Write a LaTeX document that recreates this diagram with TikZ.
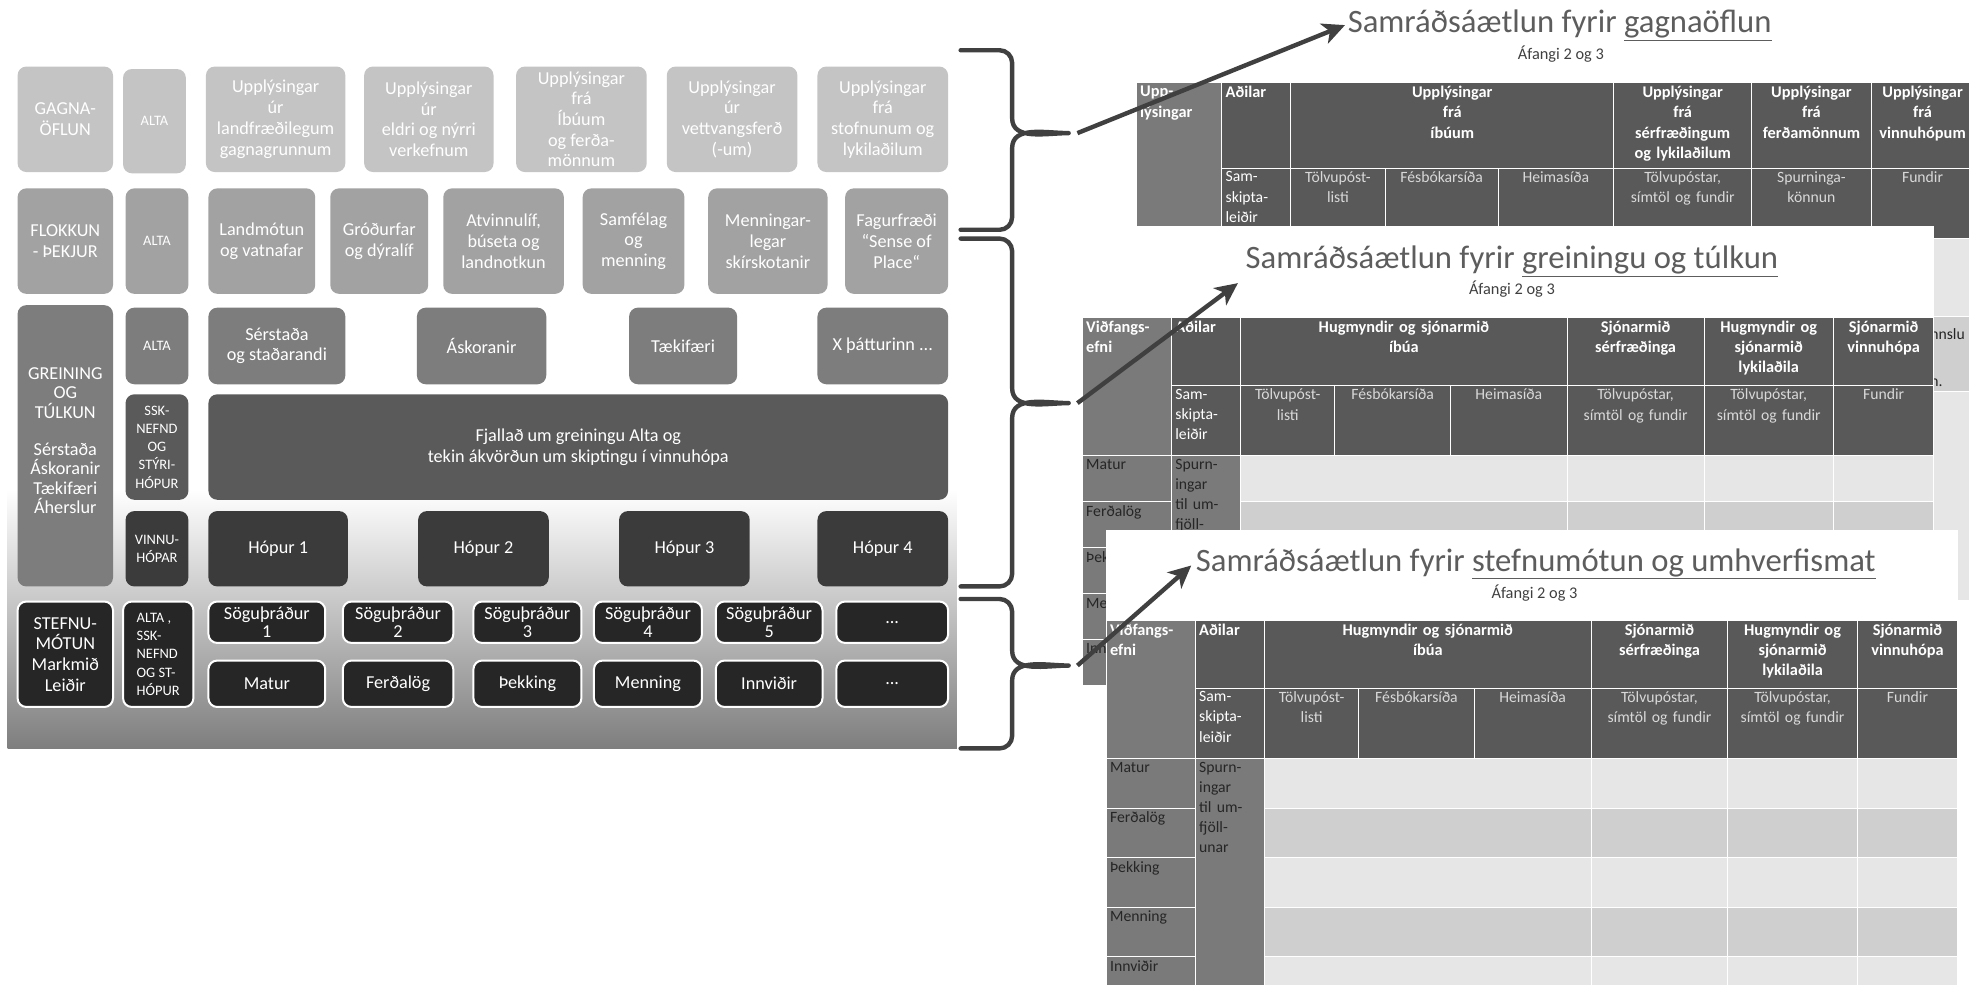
\documentclass[tikz,border=0pt]{standalone}
\usepackage{fontspec}
\setmainfont{Carlito}
\usetikzlibrary{arrows.meta}

\definecolor{rowA}{HTML}{C4C4C4}
\definecolor{rowB}{HTML}{A2A2A2}
\definecolor{rowC}{HTML}{7D7D7D}
\definecolor{rowD}{HTML}{5A5A5A}
\definecolor{rowE}{HTML}{3B3B3B}
\definecolor{rowF}{HTML}{262626}
\definecolor{panelC}{HTML}{7E7E7E}
\definecolor{ink}{HTML}{404040}
\definecolor{hdrC}{HTML}{595959}
\definecolor{colC}{HTML}{7A7A7A}
\definecolor{lightC}{HTML}{E6E6E6}
\definecolor{midC}{HTML}{CFCFCF}
\definecolor{srtxt}{HTML}{D9D9D9}

\newcommand{\pfont}{\fontsize{14.5}{16.5}\selectfont}
\newcommand{\sfont}{\fontsize{11.5}{14.5}\selectfont}
\newcommand{\hfont}{\fontsize{13}{16}\selectfont\bfseries}
\newcommand{\rfont}{\fontsize{12.5}{16}\selectfont}

% box from (x1,y1) to (x2,y2)
\newcommand{\boxat}[7][]{%
  \node[#1, minimum width={#5-#3}, minimum height={#6-#4}] (#2) at ({(#3+#5)/2},{(#4+#6)/2}) {#7};}
% table cell, text at the top
\newcommand{\cellat}[8][]{%
  \pgfmathsetmacro{\cw}{#5-#3-6}%
  \node[tcell, fill=#7, minimum width={#5-#3}, minimum height={#6-#4}] (#2) at ({(#3+#5)/2},{(#4+#6)/2}) {};
  \node[ctext, #1, text width=\cw pt] (#2t) at (#2.north) {#8};}

\tikzset{
pbox/.style={rounded corners=7pt, inner sep=1pt, align=center, text=white, font=\pfont},
sm/.style={font=\sfont},
dark/.style={pbox, fill=rowF, draw=white, line width=1.6pt},
tcell/.style={draw=white, line width=0.8pt, inner sep=0pt},
ctext/.style={anchor=north, inner sep=3pt, align=center},
hd/.style={font=\hfont, text=white},
hdl/.style={hd, align=left},
sr/.style={font=\rfont, text=srtxt},
srl/.style={font=\rfont, text=white, align=left},
rh/.style={font=\rfont, text=rowF, align=left},
ttl/.style={font=\fontsize{26}{30}\selectfont, text=ink!85, inner sep=2pt},
sub/.style={font=\fontsize{13}{15}\selectfont, text=ink},
brc/.style={draw=ink, line width=3.5pt, line join=round, line cap=round},
arr/.style={draw=ink, line width=3.5pt, -{Stealth[length=18pt, width=17pt, inset=5pt]}}
}

% plan table: prefix, x0, y0, body row height
\newcommand{\plantab}[4]{%
\begin{scope}[shift={(#2,#3)}]
  \cellat[hdl]{#1v}{0}{0}{71}{110}{colC}{Viðfangs-\\efni}
  \cellat[hdl]{#1a}{71}{0}{126}{54}{hdrC}{Aðilar}
  \cellat[hd]{#1h1}{126}{0}{386}{54}{hdrC}{Hugmyndir og sjónarmið\\íbúa}
  \cellat[hd]{#1h2}{386}{0}{495}{54}{hdrC}{Sjónarmið\\sérfræðinga}
  \cellat[hd]{#1h3}{495}{0}{598}{54}{hdrC}{Hugmyndir og\\sjónarmið\\lykilaðila}
  \cellat[hd]{#1h4}{598}{0}{678}{54}{hdrC}{Sjónarmið\\vinnuhópa}
  \cellat[srl]{#1s0}{71}{54}{126}{110}{hdrC}{Sam-\\skipta-\\leiðir}
  \cellat[sr]{#1s1}{126}{54}{201}{110}{hdrC}{Tölvupóst-\\listi}
  \cellat[sr]{#1s2}{201}{54}{293}{110}{hdrC}{Fésbókarsíða}
  \cellat[sr]{#1s3}{293}{54}{386}{110}{hdrC}{Heimasíða}
  \cellat[sr]{#1s4}{386}{54}{495}{110}{hdrC}{Tölvupóstar,\\símtöl og fundir}
  \cellat[sr]{#1s5}{495}{54}{598}{110}{hdrC}{Tölvupóstar,\\símtöl og fundir}
  \cellat[sr]{#1s6}{598}{54}{678}{110}{hdrC}{Fundir}
  \foreach \nm [count=\k] in {Matur,Ferðalög,Þekking,Menning,Innviðir} {
    \pgfmathsetmacro{\ya}{110+(\k-1)*#4}
    \pgfmathsetmacro{\yb}{110+\k*#4}
    \ifodd\k\relax \def\bg{lightC}\else \def\bg{midC}\fi
    \cellat[rh]{#1r\k}{0}{\ya}{71}{\yb}{colC}{\nm}
    \boxat[tcell, fill=\bg]{#1p\k}{126}{\ya}{386}{\yb}{}
    \boxat[tcell, fill=\bg]{#1q\k}{386}{\ya}{495}{\yb}{}
    \boxat[tcell, fill=\bg]{#1u\k}{495}{\ya}{598}{\yb}{}
    \boxat[tcell, fill=\bg]{#1w\k}{598}{\ya}{678}{\yb}{}
  }
  \pgfmathsetmacro{\yend}{110+5*#4}
  \cellat[rh]{#1sp}{71}{110}{126}{\yend}{colC}{Spurn-\\ingar\\til um-\\fjöll-\\unar}
\end{scope}}

\begin{document}
\begin{tikzpicture}[x=1pt, y=-1pt]
\useasboundingbox (0,0) rectangle (1568,784);
\clip (0,0) rectangle (1568,784);
\fill[white] (0,0) rectangle (1568,784);
\shade[top color=white, bottom color=panelC] (6,390) rectangle (762,596);

% gagnaoflun
\boxat[pbox, fill=rowA]{gagn}{14}{53}{90}{137}{GAGNA-\\ÖFLUN}
\boxat[pbox, sm, fill=rowA]{alta1}{98}{55}{148}{138}{ALTA}
\boxat[pbox, fill=rowA]{upp1}{164}{53}{275}{137}{Upplýsingar\\úr\\landfræðilegum\\gagnagrunnum}
\boxat[pbox, fill=rowA]{upp2}{290}{53}{393}{137}{Upplýsingar\\úr\\eldri og nýrri\\verkefnum}
\boxat[pbox, fill=rowA]{upp3}{411}{53}{515}{137}{Upplýsingar\\frá\\Íbúum\\og ferða-\\mönnum}
\boxat[pbox, fill=rowA]{upp4}{531}{53}{635}{137}{Upplýsingar\\úr\\vettvangsferð\\(-um)}
\boxat[pbox, fill=rowA]{upp5}{651}{53}{755}{137}{Upplýsingar\\frá\\stofnunum og\\lykilaðilum}

% flokkun
\boxat[pbox, fill=rowB]{flok}{14}{150}{90}{234}{FLOKKUN\\- ÞEKJUR}
\boxat[pbox, sm, fill=rowB]{alta2}{100}{150}{150}{234}{ALTA}
\boxat[pbox, fill=rowB]{land}{166}{150}{251}{234}{Landmótun\\og vatnafar}
\boxat[pbox, fill=rowB]{grod}{263}{150}{341}{234}{Gróðurfar\\og dýralíf}
\boxat[pbox, fill=rowB]{atvi}{353}{150}{449}{234}{Atvinnulíf,\\búseta og\\landnotkun}
\boxat[pbox, fill=rowB]{samf}{464}{150}{545}{234}{Samfélag\\og\\menning}
\boxat[pbox, fill=rowB]{menn}{564}{150}{659}{234}{Menningar-\\legar\\skírskotanir}
\boxat[pbox, fill=rowB]{fagu}{673}{150}{755}{234}{Fagurfræði\\“Sense of\\Place“}

% greining
\boxat[pbox, fill=rowC]{grei}{14}{243}{90}{467}{}
\node[pbox, font=\fontsize{14.5}{15.5}\selectfont] (greitxt) at (52,313) {GREINING\\OG\\TÚLKUN};
\node[pbox, font=\fontsize{14.5}{15.5}\selectfont] (greilist) at (52,381) {Sérstaða\\Áskoranir\\Tækifæri\\Áherslur};
\boxat[pbox, sm, fill=rowC]{alta3}{100}{245}{150}{306}{ALTA}
\boxat[pbox, fill=rowC]{sers}{166}{245}{275}{306}{Sérstaða\\og staðarandi}
\boxat[pbox, fill=rowC]{asko}{332}{245}{435}{306}{Áskoranir}
\boxat[pbox, fill=rowC]{taek}{501}{245}{587}{306}{Tækifæri}
\boxat[pbox, fill=rowC]{xpat}{651}{245}{755}{306}{X þátturinn ...}
\boxat[pbox, sm, fill=rowD]{ssk}{100}{314}{150}{398}{SSK-\\NEFND\\OG\\STÝRI-\\HÓPUR}
\boxat[pbox, fill=rowD, font=\fontsize{14.5}{17}\selectfont]{fjal}{166}{314}{755}{398}{Fjallað um greiningu Alta og\\tekin ákvörðun um skiptingu í vinnuhópa}
\boxat[pbox, sm, fill=rowE]{vinn}{100}{407}{150}{467}{VINNU-\\HÓPAR}
\foreach \k/\a/\b in {1/166/277, 2/333/437, 3/493/597, 4/651/755}
  \boxat[pbox, fill=rowE]{hop\k}{\a}{407}{\b}{467}{Hópur \k};

% stefnumotun
\boxat[dark]{stef}{14}{479}{90}{563}{STEFNU-\\MÓTUN\\Markmið\\Leiðir}
\boxat[dark, sm, align=left]{alta4}{98}{479}{154}{563}{ALTA ,\\SSK-\\NEFND\\OG ST-\\HÓPUR}
\foreach \k/\a/\b in {1/166/259, 2/273/361, 3/377/463, 4/473/559, 5/570/655}
  \boxat[dark, font=\fontsize{14.5}{15}\selectfont]{sogu\k}{\a}{479}{\b}{512}{Söguþráður\\\k};
\boxat[dark]{sogu6}{666}{479}{755}{512}{...}
\foreach \k/\a/\b/\w in {1/166/259/Matur, 2/273/361/Ferðalög, 3/377/463/Þekking, 4/473/559/Menning, 5/570/655/Innviðir}
  \boxat[dark]{efni\k}{\a}{526}{\b}{563}{\w};
\boxat[dark]{efni6}{666}{526}{755}{563}{...}

% braces
\foreach \t/\m/\b/\n in {40/106/183/1, 190/321/467/2, 477/530/596/3} {
  \draw[brc] (765,\t) -- (796,\t) to[out=0,in=90] (806,\t+10) -- (806,\m-12)
    to[out=-90,in=180] (851,\m) to[out=180,in=90] (806,\m+12) -- (806,\b-10)
    to[out=-90,in=0] (796,\b) -- (765,\b);
  \coordinate (tip\n) at (858,\m);
}

% plan 1
\node[ttl] (ttl1) at (1242,20) {Samráðsáætlun fyrir \underline{gagnaöflun}};
\node[sub] (sub1) at (1243,43) {Áfangi 2 og 3};
\cellat[hdl]{tav}{905}{66}{973}{190}{colC}{Upp-\\lýsingar}
\cellat[hdl]{taa}{973}{66}{1028}{134}{hdrC}{Aðilar}
\cellat[hd]{tah1}{1028}{66}{1285}{134}{hdrC}{Upplýsingar\\frá\\íbúum}
\cellat[hd]{tah2}{1285}{66}{1395}{134}{hdrC}{Upplýsingar\\frá\\sérfræðingum\\og lykilaðilum}
\cellat[hd]{tah3}{1395}{66}{1490}{134}{hdrC}{Upplýsingar\\frá\\ferðamönnum}
\cellat[hd]{tah4}{1490}{66}{1572}{134}{hdrC}{Upplýsingar\\frá\\vinnuhópum}
\cellat[srl]{tas0}{973}{134}{1028}{190}{hdrC}{Sam-\\skipta-\\leiðir}
\cellat[sr]{tas1}{1028}{134}{1103}{190}{hdrC}{Tölvupóst-\\listi}
\cellat[sr]{tas2}{1103}{134}{1193}{190}{hdrC}{Fésbókarsíða}
\cellat[sr]{tas3}{1193}{134}{1285}{190}{hdrC}{Heimasíða}
\cellat[sr]{tas4}{1285}{134}{1395}{190}{hdrC}{Tölvupóstar,\\símtöl og fundir}
\cellat[sr]{tas5}{1395}{134}{1490}{190}{hdrC}{Spurninga-\\könnun}
\cellat[sr]{tas6}{1490}{134}{1572}{190}{hdrC}{Fundir}
\boxat[tcell, fill=lightC]{tab1}{1490}{190}{1572}{252}{}
\boxat[tcell, fill=midC]{tab2}{1490}{252}{1572}{312}{}
\boxat[tcell, fill=lightC]{tab3}{1490}{312}{1572}{478}{}
\node[rh, anchor=west, inner sep=0pt] (frag1) at (1537,266) {nnslu};
\node[rh, anchor=west, inner sep=0pt] (frag2) at (1537,305) {n.};

% plan 2
\fill[white] (862,180) rectangle (1540,545);
\node[ttl] (ttl2) at (1204,208) {Samráðsáætlun fyrir \underline{greiningu og túlkun}};
\node[sub] (sub2) at (1204,230) {Áfangi 2 og 3};
\plantab{tb}{862}{253}{36.6}

% plan 3
\fill[white] (881,422) rectangle (1559,784);
\node[ttl] (ttl3) at (1223,449) {Samráðsáætlun fyrir \underline{stefnumótun og umhverfismat}};
\node[sub] (sub3) at (1222,472) {Áfangi 2 og 3};
\plantab{tc}{881}{494}{39.5}

\draw[arr] (tip1) -- (ttl1.west);
\draw[arr, shorten >=5pt] (tip2) -- (ttl2.south west);
\draw[arr, shorten >=2pt] (tip3) -- (ttl3.west);
\end{tikzpicture}
\end{document}
